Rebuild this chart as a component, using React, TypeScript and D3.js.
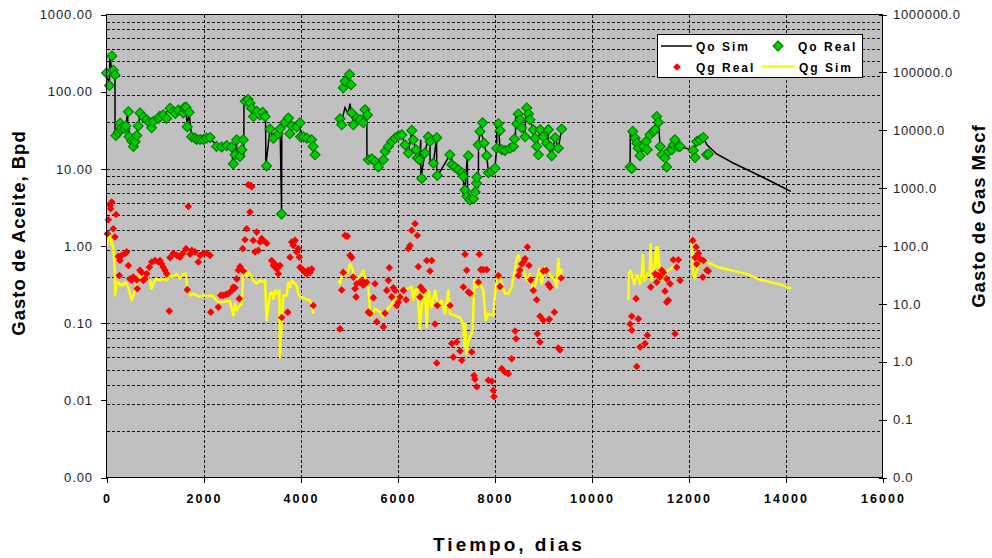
import React from 'react';
import * as d3 from 'd3';

type Pt = [number, number];

// axes
const dayTicks = [0, 2000, 4000, 6000, 8000, 10000, 12000, 14000, 16000];
const oilTicks = [0.001, 0.01, 0.1, 1, 10, 100, 1000];
const gasTicks = [0.01, 0.1, 1, 10, 100, 1000, 10000, 100000, 1000000];
// horizontal grid: base * k^2
const gridBases = [0.001, 0.1, 10];
const gridSteps = [1, 2, 3, 4, 5, 6, 7, 8, 9, 10];

// Qo Real (dias, Bpd)
const qoReal: Pt[] = [
  [0, 175], [60, 120], [110, 290], [140, 190], [175, 165], [195, 27], [245, 30], [280, 39], [290, 32], [315, 34],
  [380, 33], [400, 36], [450, 55], [465, 26], [520, 23], [555, 19.5], [590, 22.5], [625, 27], [655, 36], [690, 53],
  [760, 47], [830, 43], [885, 40], [930, 34], [965, 41], [1070, 45], [1100, 48], [1170, 50], [1240, 45], [1310, 61],
  [1380, 55], [1420, 52], [1480, 58], [1585, 53], [1600, 62], [1640, 63], [1665, 35], [1705, 54], [1755, 26], [1825, 25],
  [1860, 24], [1930, 24], [2000, 24], [2060, 25], [2135, 25.5],
  [2270, 19.5], [2375, 19.2], [2480, 20], [2580, 19.2], [2615, 11.6], [2650, 15.2], [2685, 23.8], [2750, 14.5], [2790, 17.7],
  [2820, 23.8], [2860, 75], [2920, 79], [2960, 71], [2990, 61], [3030, 47.6], [3100, 55.5], [3165, 50], [3220, 54], [3270, 47.5],
  [3300, 10.9], [3370, 32.8], [3440, 25], [3540, 28.5], [3580, 33], [3610, 2.6], [3680, 40], [3750, 45.5], [3780, 28.5], [3820, 36],
  [3920, 35], [3990, 39.5], [4000, 26], [4060, 26], [4130, 25], [4230, 23.8], [4260, 19.5], [4300, 15.2],
  [4815, 44.5], [4850, 37.2], [4880, 112], [4920, 136], [5010, 168], [5040, 123], [5056, 53], [5090, 37.2], [5160, 45.5], [5230, 43.3],
  [5295, 39.5], [5330, 58.3], [5380, 50], [5400, 13.1], [5470, 13.5], [5540, 12.4], [5605, 10.6], [5710, 13.1], [5745, 16.8], [5810, 19.5],
  [5880, 22.6], [5950, 25], [6020, 26.8], [6090, 27.6], [6155, 20.5], [6225, 16], [6295, 31.5], [6325, 23.8], [6380, 17.7], [6410, 13.8],
  [6450, 13.1], [6500, 7.5], [6565, 16], [6635, 26], [6670, 22.6], [6740, 11.8], [6810, 25.3], [6820, 8.2],
  [7080, 15.2], [7120, 11.3], [7185, 10.5], [7255, 9.7], [7325, 8.9], [7355, 8], [7390, 5.3], [7430, 4.4], [7460, 14.8], [7495, 3.95],
  [7565, 4.1], [7600, 5], [7630, 6.5], [7635, 7.8], [7665, 20.5], [7700, 30.5], [7755, 39.5], [7785, 21.5], [7840, 14.8], [7875, 8.9],
  [7945, 9.3], [8010, 10.2], [8045, 18.5], [8080, 38.5], [8115, 31.5], [8150, 17.7], [8215, 17.3], [8320, 18.5], [8390, 19.5], [8410, 24.4],
  [8460, 38.5], [8490, 51.5], [8525, 43.3], [8560, 34], [8630, 26], [8665, 61.5], [8700, 51.5], [8730, 43.3], [8800, 32.1], [8835, 25],
  [8870, 19.5], [8905, 15.2], [8940, 32.1], [9005, 26], [9075, 21.5], [9110, 32.1], [9145, 19.5], [9180, 14.8], [9250, 25.3], [9315, 18.5],
  [9385, 32.8],
  [10795, 10.6], [10830, 10.1], [10850, 30.5], [10900, 25], [10935, 21.5], [10965, 18.5], [11000, 14.8], [11070, 19.5], [11125, 22.6], [11150, 17.7],
  [11205, 27.6], [11275, 30.5], [11310, 32.1], [11345, 47.5], [11380, 40], [11415, 19.5], [11450, 15.2], [11515, 13.8], [11550, 10.6], [11585, 16.8],
  [11655, 17.7], [11690, 20.5], [11720, 23.8], [11790, 19.5], [11825, 19.5], [12100, 17.3], [12135, 14], [12170, 22.6], [12240, 23.8], [12305, 25.5],
  [12375, 15.2], [12410, 15.6],
];

// Qg Real (dias, Mscf)
const qgReal: Pt[] = [
  [16, 163], [37, 285], [72, 503], [87, 441], [107, 573], [140, 199], [175, 143], [196, 351], [243, 66], [264, 31],
  [278, 56], [313, 69], [381, 74], [416, 79], [450, 46], [485, 27], [520, 25.5], [553, 29], [623, 26], [635, 18.3],
  [691, 38], [726, 35], [759, 25.5], [794, 27], [829, 33], [883, 43], [932, 53], [1000, 56], [1068, 53], [1103, 56],
  [1138, 49], [1171, 43], [1206, 38], [1241, 33], [1295, 7.5], [1309, 63], [1377, 75], [1448, 69], [1516, 64], [1571, 75],
  [1639, 90], [1666, 17.6], [1687, 483], [1722, 72], [1757, 84], [1825, 79], [1893, 53], [1928, 69], [1996, 74], [2066, 75],
  [2134, 69], [2149, 7.2], [2305, 8.8], [2355, 14], [2408, 14], [2464, 14.6], [2511, 15], [2581, 17.1], [2615, 19.5], [2650, 19],
  [2685, 27], [2718, 38], [2738, 12.3], [2753, 44], [2808, 90], [2821, 37], [2856, 128], [2890, 199], [2924, 1140], [2959, 385],
  [2973, 1114], [2994, 1060], [3027, 125], [3062, 79], [3097, 174], [3130, 84], [3165, 117], [3200, 134], [3233, 125], [3303, 112],
  [3406, 56], [3439, 46], [3474, 49], [3509, 40], [3542, 33], [3577, 46], [3613, 5.8], [3736, 7.2], [3784, 64], [3819, 117],
  [3852, 102], [3887, 125], [3922, 79], [3955, 90], [3976, 64], [3990, 43], [4025, 40], [4058, 38], [4093, 35], [4128, 33],
  [4162, 38], [4196, 35], [4231, 40], [4264, 9.4],
  [4815, 3.7], [4850, 17.4], [4883, 35], [4918, 152], [4965, 148], [5021, 69], [5056, 63], [5089, 29], [5124, 18.3], [5145, 13.2],
  [5159, 22.3], [5227, 23.7], [5262, 25.5], [5295, 21], [5330, 22.3], [5365, 23.7], [5398, 7.2], [5433, 6.8], [5502, 12.8], [5536, 22.3],
  [5571, 4.9], [5708, 4.0], [5743, 6.9], [5777, 17.1], [5811, 25.5], [5832, 42], [5881, 13.2], [5914, 19], [5949, 17.1], [5984, 9.4],
  [6017, 10.7], [6052, 13.2], [6121, 17.1], [6176, 11.8], [6223, 90], [6258, 102], [6293, 186], [6361, 243], [6409, 152], [6430, 44],
  [6464, 13.2], [6478, 19.5], [6533, 17.1], [6602, 56], [6670, 37], [6705, 56], [6773, 4.5], [6808, 0.95], [6821, 9.4], [7083, 9.4],
  [7118, 2.06], [7151, 1.2], [7221, 2.19], [7289, 1.53], [7324, 1.06], [7357, 19.5], [7392, 72], [7427, 38], [7461, 16], [7495, 15.3],
  [7530, 1.47], [7578, 0.58], [7598, 0.5], [7633, 0.37], [7667, 23.7], [7687, 72], [7716, 39], [7770, 39], [7840, 39], [7873, 0.48],
  [7943, 0.46], [7976, 0.32], [7990, 0.25], [8079, 31], [8114, 20], [8149, 0.76], [8217, 0.66], [8285, 0.62], [8355, 1.13], [8423, 3.4],
  [8444, 2.5], [8491, 31], [8526, 38], [8561, 49], [8595, 53], [8629, 60], [8677, 96], [8712, 46], [8747, 26], [8801, 17.1],
  [8870, 11.8], [8883, 3.05], [8938, 6.1], [8938, 2.19], [9007, 5.2], [9007, 37], [9063, 38], [9110, 21.7], [9131, 5.4], [9145, 19.5],
  [9234, 7.2], [9316, 1.73], [9350, 1.6], [9372, 28],
  [10795, 4.5], [10830, 6.1], [10830, 3.5], [10918, 12.3], [10933, 0.83], [10966, 5.5], [11001, 1.8], [11104, 2.06], [11151, 2.86], [11221, 19.5],
  [11310, 33], [11345, 23.7], [11378, 31], [11413, 29], [11448, 38], [11481, 35], [11516, 16.6], [11551, 27], [11551, 10.7], [11584, 11.5],
  [11619, 22.3], [11687, 58], [11722, 3.05], [11757, 43], [11790, 58], [11826, 25.5], [12087, 125], [12135, 63], [12156, 96], [12170, 49],
  [12203, 74], [12238, 60], [12294, 29], [12306, 56], [12376, 38], [12409, 37],
];

// Qo Sim (dias, Bpd), one list per producing period
const qoSim: Pt[][] = [
  [
    [0, 165], [60, 125], [72, 290], [110, 180], [175, 180], [176, 27], [245, 30], [280, 38], [400, 36], [437, 55],
    [440, 35], [520, 23], [555, 20], [625, 27], [690, 50], [830, 43], [965, 41], [1170, 50], [1310, 60], [1480, 57],
    [1650, 63], [1655, 35], [1705, 52], [1755, 26], [1825, 25], [2000, 24], [2135, 25], [2270, 20], [2590, 19.5], [2600, 11.8],
    [2680, 23.8], [2685, 15.2], [2830, 14.5], [2835, 75], [2960, 70], [3030, 50], [3280, 48], [3285, 11], [3370, 32], [3440, 26],
    [3580, 33], [3610, 2.6], [3615, 38], [3750, 45], [3820, 36], [3990, 39], [4000, 26], [4230, 24], [4300, 16],
  ],
  [
    [4815, 44], [4850, 37], [4880, 50], [4918, 62], [4980, 52], [5021, 70], [5056, 50], [5090, 40], [5160, 45], [5230, 43],
    [5295, 40], [5330, 55], [5368, 40], [5370, 13], [5470, 13.5], [5540, 12.4], [5605, 10.6], [5710, 13], [5810, 19.5], [5950, 25],
    [6090, 27.6], [6155, 20.5], [6225, 16], [6295, 31.5], [6325, 24], [6380, 17.7], [6450, 13], [6479, 23.8], [6482, 7.5], [6565, 16],
    [6636, 26], [6670, 22.6], [6672, 11.8], [6740, 12], [6805, 25], [6810, 8.2], [6830, 8.2], [7083, 15.2], [7186, 10.5], [7325, 8.9],
    [7390, 5.3], [7440, 14.8], [7445, 4.4], [7495, 4], [7565, 4.1], [7630, 6.5], [7668, 5.9], [7670, 21], [7700, 30.5], [7735, 39],
    [7740, 28], [7785, 21.5], [7840, 14.8], [7875, 8.9], [8010, 10.2], [8045, 18.5], [8050, 39], [8080, 38.5], [8114, 17.7], [8215, 17.3],
    [8320, 18.5], [8390, 19.5], [8430, 24], [8440, 51], [8490, 51.5], [8560, 34], [8630, 26], [8645, 61.5], [8700, 51.5], [8800, 32],
    [8870, 19.5], [8940, 32], [9075, 21.5], [9110, 32], [9115, 18], [9180, 14.8], [9250, 25.3], [9315, 18.5], [9385, 32.8],
  ],
  [
    [10795, 10.6], [10800, 30.5], [10900, 25], [10965, 18.5], [11000, 14.8], [11125, 22.6], [11205, 27.6], [11310, 32], [11330, 47.5], [11345, 30],
    [11380, 40], [11415, 19.5], [11515, 13.8], [11655, 17.7], [11720, 23.8], [11825, 19.5], [12100, 17.3], [12170, 22.6], [12305, 25.5], [12380, 20.5],
    [12580, 15.6], [12920, 11.9], [13340, 8.9], [13890, 6.0], [14110, 5.1],
  ],
];

// Qg Sim (dias, Mscf)
const qgSim: Pt[][] = [
  [
    [0, 98], [16, 110], [58, 152], [87, 134], [107, 110], [140, 96], [155, 60], [175, 29], [176, 14], [210, 22.3],
    [245, 23.7], [280, 20.9], [315, 22.3], [345, 20.9], [380, 23.7], [415, 22.3], [450, 19.5], [485, 15], [520, 11.5], [555, 14],
    [590, 17.1], [625, 19.5], [635, 29.2], [655, 25.5], [690, 31.1], [760, 30], [830, 29.2], [895, 25.5], [930, 18.3], [965, 22.3],
    [1000, 25.5], [1035, 27.2], [1105, 25.5], [1170, 27.2], [1240, 25.5], [1310, 31.1], [1375, 29.2], [1450, 33.3], [1515, 27.2], [1585, 33.3],
    [1640, 33.3], [1665, 17.1], [1705, 16], [1735, 14], [1790, 15], [1860, 14], [1930, 13.2], [2000, 14], [2065, 13.5], [2170, 14],
    [2305, 10.7], [2375, 10.7], [2480, 11.1], [2545, 11.1], [2580, 8.3], [2615, 6.3], [2650, 10], [2685, 7.7], [2720, 8.8], [2755, 9.4],
    [2790, 10.1], [2820, 37.9], [2855, 39], [2890, 29.2], [2925, 35.4], [2995, 29.2], [3025, 25.5], [3095, 22.3], [3165, 25.5], [3235, 23.7],
    [3270, 25.5], [3300, 5.2], [3370, 15], [3405, 16], [3440, 12.3], [3475, 17.1], [3510, 15], [3565, 17.1], [3577, 1.2], [3613, 5.2],
    [3645, 14], [3715, 14], [3750, 23.7], [3785, 19.5], [3820, 25.5], [3850, 23.7], [3920, 20.9], [3955, 15], [3990, 13.2], [4060, 12.8],
    [4130, 11.9], [4195, 11.5], [4230, 9.8], [4265, 6.8],
  ],
  [
    [4780, 25.5], [4815, 22.3], [4850, 29.2], [4918, 37.9], [4953, 31.1], [5021, 49.4], [5056, 43.4], [5089, 35.4], [5159, 25.5], [5227, 29.2],
    [5295, 37.9], [5330, 29.2], [5365, 25.5], [5398, 19.5], [5433, 7.7], [5468, 5.9], [5536, 8.3], [5639, 7.2], [5708, 5.9], [5777, 7.7],
    [5881, 10], [5984, 13.2], [6087, 15], [6155, 17.1], [6223, 18.3], [6293, 19.5], [6326, 11.5], [6361, 17.1], [6409, 18.3], [6464, 3.7],
    [6499, 10], [6567, 17.1], [6602, 4], [6643, 17.1], [6705, 8.8], [6773, 17.1], [6842, 8.8], [6911, 11.5], [6980, 6.8], [7048, 17.1],
    [7083, 6.8], [7186, 6.3], [7289, 5.8], [7357, 4.5], [7378, 1.8], [7399, 4.5], [7427, 1.38], [7461, 2.34], [7495, 2.67], [7551, 3.5],
    [7584, 25.5], [7633, 19.5], [7701, 22.3], [7770, 17.1], [7819, 5.2], [7873, 6.8], [7976, 6.3], [8025, 19.5], [8079, 33.3], [8149, 22.3],
    [8217, 15], [8285, 15], [8355, 19.5], [8423, 40.5], [8458, 60], [8491, 68.8], [8541, 49.4], [8595, 37.9], [8664, 25.5], [8732, 33.3],
    [8801, 17.1], [8870, 25.5], [8924, 40.5], [8973, 22.3], [9041, 43.4], [9110, 35.4], [9180, 29.2], [9248, 25.5], [9283, 19.5], [9316, 60],
    [9351, 25.5], [9386, 40.5],
  ],
  [
    [10760, 11.5], [10770, 33], [10800, 38], [10840, 30], [10880, 22], [10920, 31], [10960, 30], [11000, 22], [11040, 35], [11060, 69],
    [11080, 25], [11120, 27], [11160, 34], [11200, 32], [11220, 107], [11240, 26], [11280, 34], [11310, 55], [11330, 95], [11350, 44],
    [11370, 95], [11400, 44], [11420, 26], [11460, 26], [11500, 30], [11540, 35], [11580, 38], [11620, 40], [11660, 42], [11700, 46],
  ],
  [
    [12050, 142], [12070, 120], [12100, 30], [12130, 28], [12170, 37], [12200, 44], [12240, 48], [12300, 55], [12380, 52.7], [12650, 42],
    [13200, 33], [13480, 26], [13890, 21.7], [14115, 18.3],
  ],
];

const FONT = "'Liberation Sans', Arial, sans-serif";

const diamond = (r: number) => `M0,${-r}L${r},0L0,${r}L${-r},0Z`;

export default function App() {
  const left = 106.5, right = 882.5, top = 14.5, bottom = 477.5;

  const x = d3.scaleLinear().domain([0, 16000]).range([left, right]);
  const yOil = d3.scaleLog().domain([0.001, 1000]).range([bottom, top]);
  const yGas = d3.scaleLog().domain([0.01, 1000000]).range([bottom, top]);

  const oilLine = d3.line<Pt>().x(d => x(d[0])).y(d => yOil(d[1]));
  const gasLine = d3.line<Pt>().x(d => x(d[0])).y(d => yGas(d[1]));

  const gridVals = gridBases.flatMap(b => gridSteps.map(k => b * k * k))
    .filter(v => v > 0.0011 && v < 999);

  const lx = 657;
  const ly = 34;

  return (
    <>
      <style>{'body{margin:0}'}</style>
      <svg width={992} height={558} style={{ display: 'block', fontFamily: FONT }}>
        <rect x={0} y={0} width={992} height={558} fill="#fff" />
        {/* plot area */}
        <rect x={left} y={top} width={right - left} height={bottom - top} fill="#c0c0c0" />

        {/* grid */}
        <g stroke="#111" strokeWidth={1} strokeDasharray="3 2" shapeRendering="crispEdges">
          {gridVals.map((v, i) => (
            <line key={'h' + i} x1={left} x2={right} y1={Math.round(yOil(v)) + 0.5} y2={Math.round(yOil(v)) + 0.5} />
          ))}
          {dayTicks.slice(1, -1).map(t => (
            <line key={'v' + t} x1={Math.round(x(t)) + 0.5} x2={Math.round(x(t)) + 0.5} y1={top} y2={bottom} />
          ))}
        </g>

        {/* Qo Sim */}
        <g fill="none" stroke="#000" strokeWidth={1.5}>
          {qoSim.map((s, i) => <path key={i} d={oilLine(s) || ''} />)}
        </g>

        {/* Qo Real */}
        <g fill="#00cc00" stroke="#007a00" strokeWidth={1.1}>
          {qoReal.map((d, i) => (
            <path key={i} d={diamond(5)} transform={`translate(${x(d[0])},${yOil(d[1])})`} />
          ))}
        </g>

        {/* Qg Sim */}
        <g fill="none" stroke="#ffff00" strokeWidth={2.5} strokeLinejoin="round">
          {qgSim.map((s, i) => <path key={i} d={gasLine(s) || ''} />)}
        </g>

        {/* Qg Real */}
        <g fill="#ff0000">
          {qgReal.map((d, i) => (
            <path key={i} d={diamond(3.8)} transform={`translate(${x(d[0])},${yGas(d[1])})`} />
          ))}
        </g>

        {/* frame */}
        <rect x={left} y={top} width={right - left} height={bottom - top} fill="none" stroke="#000" strokeWidth={1} shapeRendering="crispEdges" />

        {/* ticks */}
        <g shapeRendering="crispEdges">
          {oilTicks.map(t => (
            <line key={t} x1={left - 6} x2={left} y1={Math.round(yOil(t)) + 0.5} y2={Math.round(yOil(t)) + 0.5} stroke="#000" />
          ))}
          {gasTicks.map(t => (
            <line key={t} x1={right - 4} x2={right + 4} y1={Math.round(yGas(t)) + 0.5} y2={Math.round(yGas(t)) + 0.5} stroke="#000" />
          ))}
          {dayTicks.map(t => (
            <line key={t} x1={Math.round(x(t)) + 0.5} x2={Math.round(x(t)) + 0.5} y1={bottom} y2={bottom + 5} stroke="#000" />
          ))}
        </g>
        <g fontSize={13} fill="#222" textAnchor="end" letterSpacing={0.9}>
          {oilTicks.map(t => (
            <text key={t} x={93} y={yOil(t)} dy="0.36em">{t.toFixed(2)}</text>
          ))}
        </g>
        <g fontSize={13} fill="#222" textAnchor="start" letterSpacing={0.7}>
          {gasTicks.map(t => (
            <text key={t} x={893} y={yGas(t)} dy="0.36em">{t.toFixed(1)}</text>
          ))}
        </g>
        <g fontSize={12.5} fontWeight="bold" fill="#000" textAnchor="middle" letterSpacing={2}>
          {dayTicks.map(t => (
            <text key={t} x={x(t) + 1} y={503}>{t}</text>
          ))}
        </g>

        {/* titles */}
        <text x={509} y={551} textAnchor="middle" fontSize={19} fontWeight="bold" letterSpacing={3}>Tiempo, dias</text>
        <text transform="translate(25,233) rotate(-90)" textAnchor="middle" fontSize={18.5} fontWeight="bold" letterSpacing={1}>Gasto de Aceite, Bpd</text>
        <text transform="translate(985,216) rotate(-90)" textAnchor="middle" fontSize={18.5} fontWeight="bold" letterSpacing={1}>Gasto de Gas Mscf</text>

        {/* legend */}
        <g>
          <rect x={lx + 0.5} y={ly + 0.5} width={205} height={43} fill="#fff" stroke="#000" shapeRendering="crispEdges" />
          <g fontSize={12} fontWeight="bold" letterSpacing={2}>
            <line x1={661} x2={692} y1={46} y2={46} stroke="#000" strokeWidth={1.5} />
            <text x={696} y={50.5}>Qo Sim</text>
            <path d={diamond(5)} transform="translate(778,46)" fill="#00cc00" stroke="#007a00" strokeWidth={1.1} />
            <text x={798} y={50.5}>Qo Real</text>
            <path d={diamond(3.8)} transform="translate(677,67)" fill="#ff0000" />
            <text x={696} y={71.5}>Qg Real</text>
            <line x1={762} x2={795} y1={66.5} y2={66.5} stroke="#ffff00" strokeWidth={2.5} />
            <text x={799} y={71.5}>Qg Sim</text>
          </g>
        </g>
      </svg>
    </>
  );
}
